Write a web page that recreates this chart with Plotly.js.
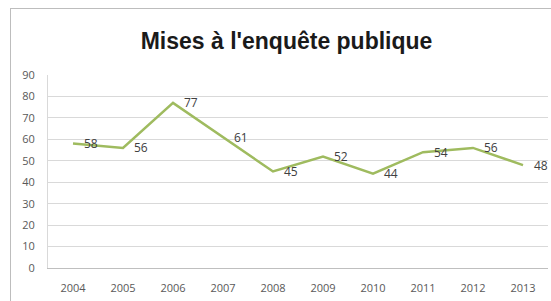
<!DOCTYPE html>
<html><head><meta charset="utf-8">
<script src="https://cdn.plot.ly/plotly-3.0.1.min.js"></script>
<style>
html,body{margin:0;padding:0;background:#fff;overflow:hidden;}
#chart{position:absolute;left:0;top:0;width:551px;height:301px;}
#frame{position:absolute;left:10px;top:8px;width:560px;height:310px;border:1px solid #bdbdbd;pointer-events:none;}
</style></head>
<body>
<div id="chart"></div>
<div id="frame"></div>
<script>
var years = ['2004','2005','2006','2007','2008','2009','2010','2011','2012','2013'];
var values = [58, 56, 77, 61, 45, 52, 44, 54, 56, 48];
var yTicks = [0,10,20,30,40,50,60,70,80,90];

var trace = {
  x: years, y: values, type: 'scatter', mode: 'lines',
  line: {color: '#9fbb5f', width: 2.5},
  hoverinfo: 'none'
};
var labels = years.map(function(yr, i){
  return {x: i, y: values[i], xref: 'x', yref: 'y', text: String(values[i]),
          showarrow: false, xanchor: 'left', yanchor: 'middle', xshift: 9,
          font: {family: 'Open Sans, sans-serif', size: 12, color: '#404040'}};
});
var layout = {
  width: 551, height: 301,
  margin: {l: 48, r: 3, t: 75, b: 33},
  paper_bgcolor: '#fff', plot_bgcolor: '#fff',
  showlegend: false,
  annotations: labels,
  title: {text: "Mises à l'enquête publique", x: 0.52, xanchor: 'center', y: 0.865, yanchor: 'middle',
          font: {family: 'Liberation Sans, Arial, sans-serif', size: 23, color: '#1a1a1a', weight: 'bold'}},
  xaxis: {type: 'category', range: [-0.5, 9.5], showgrid: false, zeroline: false,
          showline: true, linecolor: '#bfbfbf', linewidth: 1, ticks: '',
          tickfont: {family: 'Open Sans, sans-serif', size: 11, color: '#595959'}, ticklabelstandoff: 10},
  yaxis: {range: [0, 90], tickvals: yTicks, showgrid: true, gridcolor: '#d9d9d9', gridwidth: 1,
          zeroline: false, showline: true, linecolor: '#d9d9d9', ticks: '',
          tickfont: {family: 'Open Sans, sans-serif', size: 11, color: '#595959'}, ticklabelstandoff: 10}
};
Plotly.newPlot('chart', [trace], layout, {staticPlot: true, displayModeBar: false});
</script>
</body></html>
